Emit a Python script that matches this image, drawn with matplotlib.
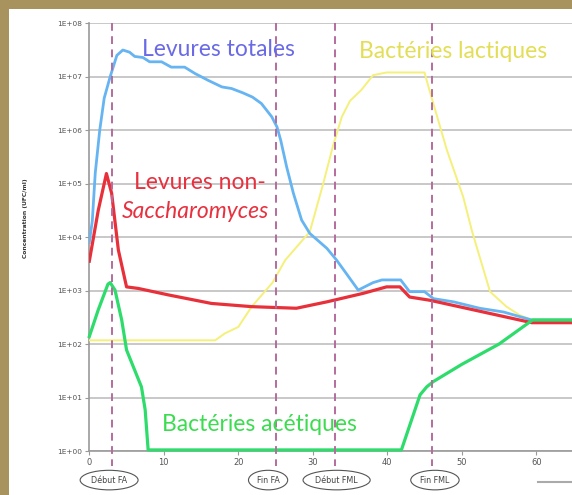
import matplotlib
matplotlib.use("Agg")
import matplotlib.pyplot as plt
import numpy as np
from matplotlib.patches import Rectangle
from matplotlib.lines import Line2D

# ---- data (time in days, log10 of concentration UFC/ml) ----
levures_tot_x = [0.0, 0.4, 0.8, 1.4, 2.0, 2.8, 3.7, 4.5, 5.4, 6.1, 7.2, 8.1, 9.7, 11.0, 12.8, 14.2,
                 16.0, 17.8, 19.1, 20.6, 21.9, 23.1, 24.5, 25.2, 25.7, 26.5, 27.4, 28.5, 29.6, 31.9,
                 33.2, 34.5, 36.1, 38.1, 39.3, 41.8, 43.0, 45.0, 46.2, 48.9, 52.4, 55.6, 59.4, 64.8]
levures_tot_y = [3.9, 4.3, 5.2, 6.0, 6.6, 7.0, 7.4, 7.5, 7.46, 7.38, 7.36, 7.28, 7.28, 7.18, 7.18, 7.06,
                 6.93, 6.81, 6.78, 6.7, 6.62, 6.5, 6.25, 6.06, 5.81, 5.31, 4.82, 4.32, 4.07, 3.79,
                 3.57, 3.32, 3.01, 3.15, 3.2, 3.2, 2.98, 2.98, 2.85, 2.79, 2.67, 2.6, 2.45, 2.45]

non_sacch_x = [0.0, 1.2, 2.3, 3.0, 3.9, 5.0, 6.6, 10.6, 16.4, 21.8, 27.8, 31.9, 36.8, 39.9, 41.7,
               43.0, 45.7, 59.4, 64.8]
non_sacch_y = [3.55, 4.5, 5.19, 4.82, 3.76, 3.07, 3.04, 2.92, 2.76, 2.7, 2.67, 2.79, 2.95, 3.07, 3.07,
               2.88, 2.82, 2.4, 2.4]

acetiques_x = [0.0, 1.2, 2.5, 2.8, 3.45, 4.35, 5.0, 6.1, 7.0, 7.5, 7.9, 41.9, 44.4, 45.3, 46.2,
               50.0, 55.0, 59.5, 64.8]
acetiques_y = [2.14, 2.64, 3.12, 3.15, 3.01, 2.45, 1.89, 1.51, 1.2, 0.77, 0.02, 0.02, 1.05, 1.2, 1.3,
               1.62, 2.0, 2.45, 2.45]

lactiques_x = [0.0, 16.9, 18.2, 20.0, 21.8, 24.6, 26.3, 29.6, 31.4, 32.7, 33.9, 35.0, 36.5, 38.1,
               39.9, 45.0, 45.6, 48.0, 50.2, 51.4, 53.8, 56.0, 57.8, 59.3, 64.8]
lactiques_y = [2.07, 2.07, 2.2, 2.32, 2.7, 3.15, 3.57, 4.1, 5.0, 5.7, 6.25, 6.55, 6.75, 7.03,
               7.08, 7.08, 6.78, 5.63, 4.75, 4.1, 2.98, 2.7, 2.54, 2.46, 2.46]

phases_x = [3, 25, 33, 46]
phase_labels = ["Début FA", "Fin FA", "Début FML", "Fin FML"]
phase_label_x = [2.66, 24.0, 33.2, 46.4]

y_exponents = list(range(0, 9))
y_tick_labels = ["1E+%02d" % e for e in y_exponents]
x_ticks = [0, 10, 20, 30, 40, 50, 60]

# ---- figure ----
W, H = 572, 495
fig = plt.figure(figsize=(W / 100, H / 100), dpi=100)
fig.patch.set_facecolor("#A8935F")
fig.add_artist(Rectangle((8.5 / W, 0), 1 - 8.5 / W, 1 - 8.5 / H, transform=fig.transFigure,
                         facecolor="white", edgecolor="none", zorder=0))

ax = fig.add_axes([89.3 / W, 1 - 451 / H, 1 - 89.3 / W, (451 - 23.3) / H])
ax.set_facecolor("white")
ax.set_yscale("log")
ax.set_ylim(1, 1e8)
ax.set_xlim(0, 64.8)

for e in y_exponents:
    ax.axhline(10.0 ** e, color="#C4C4C4", lw=1.3, zorder=1)

for sp in ["top", "right"]:
    ax.spines[sp].set_visible(False)
ax.spines["left"].set_color("#9A9A9A")
ax.spines["bottom"].set_color("#9A9A9A")
ax.spines["left"].set_linewidth(1.2)
ax.spines["bottom"].set_linewidth(1.2)

ax.set_yticks([10.0 ** e for e in y_exponents])
ax.set_yticklabels(y_tick_labels)
ax.yaxis.set_minor_locator(matplotlib.ticker.NullLocator())
ax.set_xticks(x_ticks)
ax.set_xticklabels([str(t) for t in x_ticks])
ax.tick_params(axis="y", labelsize=5.3, colors="#9A9A9A", labelcolor="#555555", length=3, pad=2)
ax.tick_params(axis="x", labelsize=6, colors="#9A9A9A", labelcolor="#555555", length=3, pad=2)

ax.set_ylabel("Concentration (UFC/ml)", fontsize=4.3, color="#333333", fontweight="bold")
ax.yaxis.set_label_coords(-0.128, 0.545)

# curves
ax.plot(lactiques_x, 10.0 ** np.array(lactiques_y), color="#F5F07A", lw=1.4, zorder=3)
ax.plot(levures_tot_x, 10.0 ** np.array(levures_tot_y), color="#66B4F2", lw=2.0, zorder=4)
ax.plot(non_sacch_x, 10.0 ** np.array(non_sacch_y), color="#E8303A", lw=2.3, zorder=5)
ax.plot(acetiques_x, 10.0 ** np.array(acetiques_y), color="#2EDC6C", lw=2.3, zorder=6, clip_on=False)

# phase markers (extend a little below the axis)
for px in phases_x:
    ax.plot([px, px], [1.0, -0.035], transform=ax.get_xaxis_transform(), color="#B46C9E",
            lw=1.4, ls=(0, (4, 2.8)), zorder=7, clip_on=False)

for lx, lab in zip(phase_label_x, phase_labels):
    ax.text(lx, -0.068, lab, transform=ax.get_xaxis_transform(), ha="center", va="center",
            fontsize=5.8, color="#444444",
            bbox=dict(boxstyle="ellipse,pad=0.3", fc="white", ec="#555555", lw=0.8))

# series labels
font = "Lato"
fs = 16.5
def ly(py):
    return 10 ** (8 - (py - 23.3) / 53.5)

ax.text(17.3, ly(50), "Levures totales", color="#6A6AE6", fontsize=fs,
        family=font, ha="center", va="center", zorder=8)
ax.text(48.8, ly(52), "Bactéries lactiques", color="#E2DE55", fontsize=fs,
        family=font, ha="center", va="center", zorder=8)
ax.text(14.9, ly(183), "Levures non-", color="#E8303E", fontsize=fs,
        family=font, ha="center", va="center", zorder=8)
ax.text(14.3, ly(212), "Saccharomyces", color="#E8303E", fontsize=fs,
        family=font, style="italic", ha="center", va="center", zorder=8)
ax.text(22.8, ly(425), "Bactéries acétiques", color="#3CDC50", fontsize=fs,
        family=font, ha="center", va="center", zorder=8)

# small gray line bottom right
fig.add_artist(Line2D([538 / W, 1.0], [1 - 482 / H, 1 - 482 / H], transform=fig.transFigure,
                      color="#AAAAAA", lw=1.5))

fig.savefig("out.png", dpi=100, facecolor=fig.get_facecolor())
